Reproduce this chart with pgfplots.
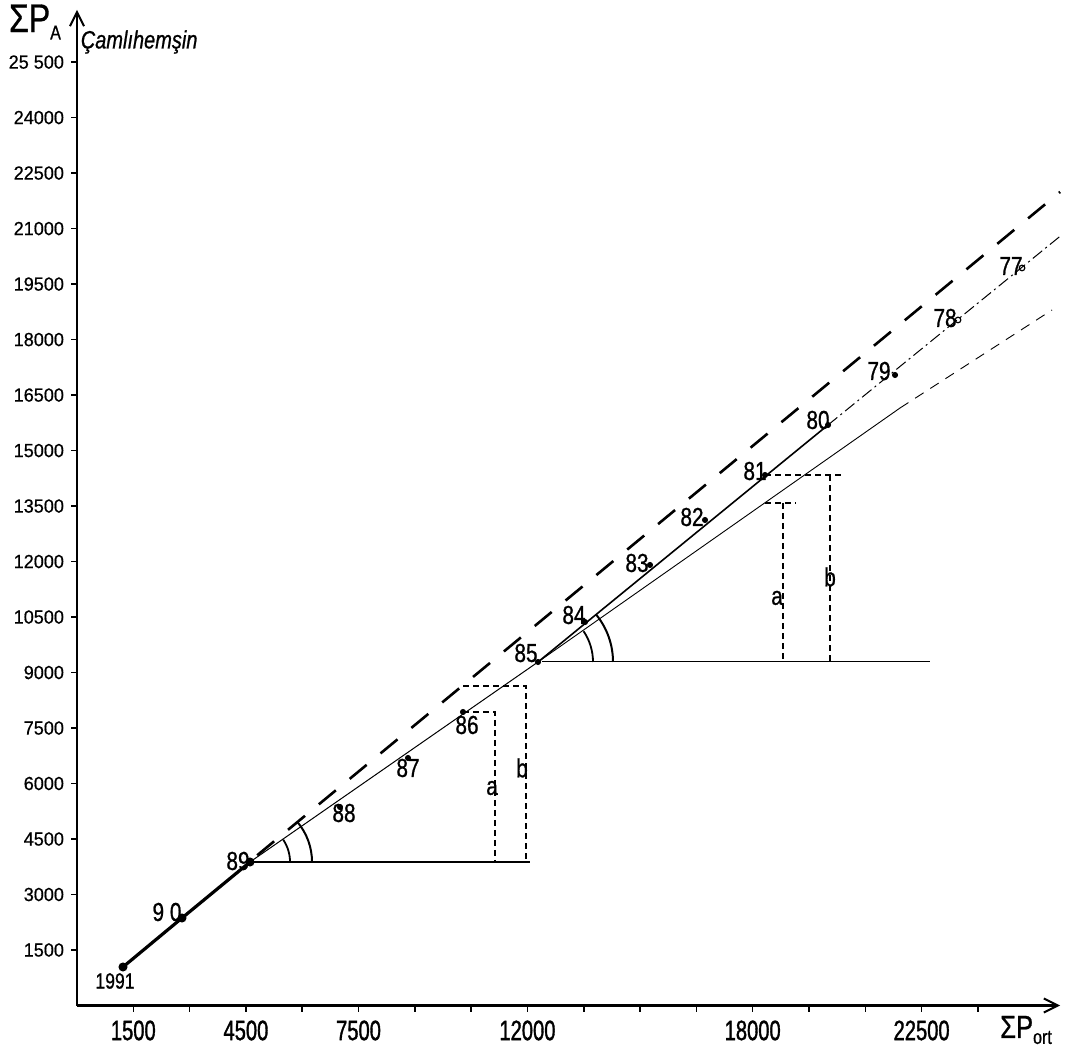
\documentclass[border=0pt]{standalone}
\usepackage{fontspec}
\setmainfont{Liberation Sans}
\newfontfamily\hand[FakeStretch=0.8,FakeBold=0.8]{Liberation Sans}
\newfontfamily\handy[FakeStretch=0.95,FakeBold=0.6]{Liberation Sans}
\newfontfamily\handx[FakeStretch=0.72,FakeBold=1.2]{Liberation Sans}
\usepackage{pgfplots}
\pgfplotsset{compat=1.18}
\usetikzlibrary{arrows.meta}
\begin{document}
\begin{tikzpicture}
\useasboundingbox (-38.5pt,-23.75pt) rectangle (495.5pt,502.75pt);
\begin{axis}[
  at={(0pt,0pt)}, anchor=south west,
  scale only axis, width=491.5pt, height=497.75pt,
  xmin=0, xmax=26187, ymin=0, ymax=26908,
  axis lines=left,
  axis line style={line width=1.1pt, -{Straight Barb[length=7pt,width=7pt,line width=1pt]}},
  clip=false,
  scaled x ticks=false, scaled y ticks=false,
  xtick={1500,3000,4500,6000,7500,9000,10500,12000,13500,15000,16500,18000,19500,21000,22500,24000},
  xticklabels={1500,,4500,,7500,,,12000,,,,18000,,,22500,},
  ytick={1500,3000,4500,6000,7500,9000,10500,12000,13500,15000,16500,18000,19500,21000,22500,24000,25500},
  yticklabels={1500,3000,4500,6000,7500,9000,10500,12000,13500,15000,16500,18000,19500,21000,22500,24000,25 500},
  tick align=outside,
  major tick length=3pt,
  tick style={line width=0.8pt, black},
  xticklabel style={font=\handx\fontsize{14}{14}\selectfont, yshift=-1pt},
  yticklabel style={font=\handy\fontsize{9.5}{9.5}\selectfont},
]
% trend 1991-89 (thick)
\addplot[black, line width=1.6pt, mark=*, mark size=1.4pt] coordinates {(1225,1041) (2797,2365) (4609,3879)};
% extension of the first trend (dashed)
\addplot[black, line width=1.3pt, dash pattern=on 11pt off 9pt] coordinates {(4800,4060) (26190,21990)};
% 89 -> 85 thin line
\addplot[black, line width=0.5pt] coordinates {(4609,3879) (12281,9285)};
% 85 -> 80 solid, then dash-dot to the end
\addplot[black, line width=0.8pt] coordinates {(12281,9285) (20007,15691)};
\addplot[black, line width=0.5pt, dash pattern=on 6pt off 2pt on 1pt off 2pt] coordinates {(20007,15691) (26187,20790)};
% extension of 89-85 trend beyond 85
\addplot[black, line width=0.45pt] coordinates {(12281,9285) (21925,16150)};
\addplot[black, line width=0.45pt, dash pattern=on 5pt off 4pt] coordinates {(21925,16150) (25974,18800)};
% horizontal reference lines
\addplot[black, line width=0.7pt] coordinates {(4609,3879) (12068,3879)};
\addplot[black, line width=0.5pt] coordinates {(12400,9285) (22724,9285)};
% a / b constructions near 86
\addplot[black, line width=0.8pt, dash pattern=on 3pt off 2pt] coordinates {(10283,7933) (11136,7933) (11136,3879)};
\addplot[black, line width=0.8pt, dash pattern=on 3pt off 2pt] coordinates {(10283,8636) (11961,8636) (11961,3879)};
% a / b constructions near 81
\addplot[black, line width=0.8pt, dash pattern=on 3pt off 2pt] coordinates {(18328,13583) (19128,13583)};
\addplot[black, line width=0.8pt, dash pattern=on 3pt off 2pt] coordinates {(18808,13583) (18808,9285)};
\addplot[black, line width=0.8pt, dash pattern=on 3pt off 2pt] coordinates {(18328,14339) (20406,14339)};
\addplot[black, line width=0.8pt, dash pattern=on 3pt off 2pt] coordinates {(20060,14339) (20060,9285)};
% observation points
\addplot[only marks, black, mark=*, mark size=1.3pt] coordinates {
(7006,5365) (8818,6690) (10283,7933) (12281,9285) (13533,10366) (15265,11907)
(16730,13123) (18328,14339) (20007,15691) (21792,17042)};
\addplot[only marks, black, mark=o, mark size=1.4pt, line width=0.6pt] coordinates {(23470,18529) (25175,19935)};
% angle arcs
\draw[line width=0.9pt] (axis cs:4609,3879) ++(20pt,0pt) arc[start angle=0, end angle=34, radius=20pt];
\draw[line width=1pt] (axis cs:4609,3879) ++(31pt,0pt) arc[start angle=0, end angle=40, radius=31pt];
\draw[line width=0.9pt] (axis cs:12281,9285) ++(27.5pt,0pt) arc[start angle=0, end angle=34, radius=27.5pt];
\draw[line width=1pt] (axis cs:12281,9285) ++(37.5pt,0pt) arc[start angle=0, end angle=39, radius=37.5pt];
% year labels
\begin{scope}[every node/.style={font=\hand\fontsize{13}{13}\selectfont, inner sep=0pt}]
\node[font=\hand\fontsize{11}{11}\selectfont] at (axis cs:1012,662) {1991};
\node at (axis cs:2398,2527) {9 0};
\node at (axis cs:4289,3906) {89};
\node at (axis cs:7113,5203) {88};
\node at (axis cs:8818,6420) {87};
\node at (axis cs:10390,7582) {86};
\node at (axis cs:11961,9528) {85};
\node at (axis cs:13240,10555) {84};
\node at (axis cs:14918,11961) {83};
\node at (axis cs:16384,13204) {82};
\node at (axis cs:18062,14447) {81};
\node at (axis cs:19740,15826) {80};
\node at (axis cs:21365,17150) {79};
\node at (axis cs:23124,18583) {78};
\node at (axis cs:24882,19989) {77};
\node at (axis cs:11056,5879) {a};
\node at (axis cs:11855,6420) {b};
\node at (axis cs:18648,11017) {a};
\node at (axis cs:20060,11583) {b};
\end{scope}
% axis titles
\node[anchor=west, inner sep=0pt, font=\hand\itshape\fontsize{12.5}{12.5}\selectfont] at (axis cs:90,26044) {Çamlıhemşin};
\node[inner sep=0pt, font=\hand\fontsize{20}{20}\selectfont] at (axis cs:-1119,26584) {ΣP\raisebox{-0.35ex}{\fontsize{10}{10}\selectfont A}};
\node[inner sep=0pt, font=\hand\fontsize{16}{16}\selectfont] at (axis cs:25281,-662) {ΣP\raisebox{-0.35ex}{\fontsize{10}{10}\selectfont ort}};
\end{axis}
\end{tikzpicture}
\end{document}
